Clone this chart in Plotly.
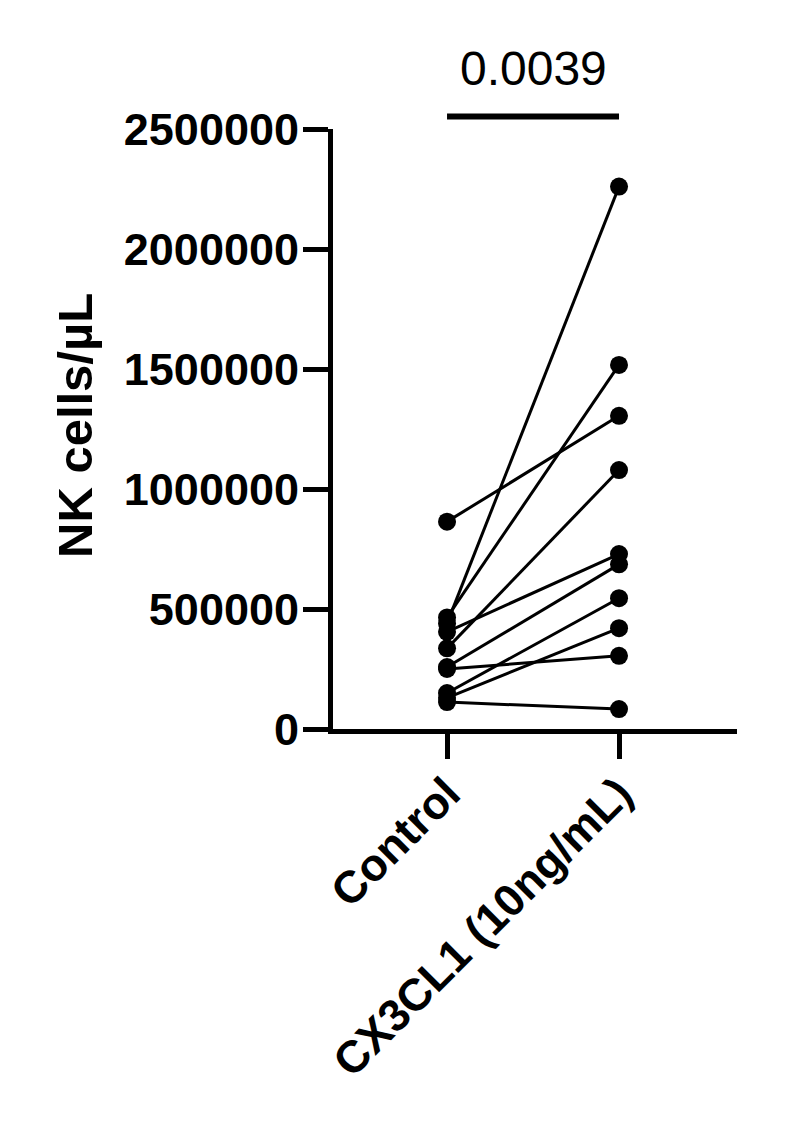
import plotly.graph_objects as go

categories = ["Control", "CX3CL1 (10ng/mL)"]
control = [864000, 440000, 465000, 405000, 336000, 258000, 250000, 150000, 130000, 112000]
cx3cl1 = [1305000, 2260000, 1517000, 729000, 1079000, 686000, 305000, 545000, 420000, 83000]
y_ticks = [0, 500000, 1000000, 1500000, 2000000, 2500000]
p_value = "0.0039"
y_title = "NK cells/µL"

FONT = "Liberation Sans, Arial, sans-serif"

fig = go.Figure()
for c, t in zip(control, cx3cl1):
    fig.add_trace(go.Scatter(
        x=categories, y=[c, t], mode="lines+markers",
        line=dict(color="black", width=3),
        marker=dict(color="black", size=18),
        showlegend=False, hoverinfo="skip",
    ))

# significance bar
fig.add_shape(type="line", xref="x", yref="paper", x0=0, x1=1, y0=1.021, y1=1.021,
              line=dict(color="black", width=6))
fig.add_annotation(text=p_value, xref="x", yref="paper", x=0.5, y=1.1,
                   showarrow=False, font=dict(family=FONT, size=48, color="black"),
                   xanchor="center", yanchor="middle")
fig.add_annotation(text=y_title, xref="paper", yref="paper", x=-0.6386, y=0.505,
                   textangle=-90, showarrow=False,
                   font=dict(family=FONT, size=49, color="black", weight="bold"),
                   xanchor="center", yanchor="middle")

fig.update_xaxes(
    type="category", categoryorder="array", categoryarray=categories,
    range=[-0.663, 1.686],
    showline=True, linecolor="black", linewidth=5,
    ticks="outside", ticklen=25, tickwidth=5, tickcolor="black",
    tickangle=-45, tickfont=dict(family=FONT, size=45, color="black", weight="bold"),
    ticklabelstandoff=-10,
    showgrid=False, zeroline=False,
)
fig.update_yaxes(
    range=[0, 2500000], tickvals=y_ticks, ticktext=[str(v) for v in y_ticks],
    showline=True, linecolor="black", linewidth=5,
    ticks="outside", ticklen=25, tickwidth=5, tickcolor="black",
    tickfont=dict(family=FONT, size=45, color="black", weight="bold"),
    ticklabelstandoff=-5,
    showgrid=False, zeroline=False,
)
fig.update_layout(
    width=811, height=1123,
    margin=dict(l=325, r=82, t=121, b=402, autoexpand=False),
    plot_bgcolor="white", paper_bgcolor="white",
    font=dict(family=FONT, color="black"),
)
fig.write_html("out.html")
